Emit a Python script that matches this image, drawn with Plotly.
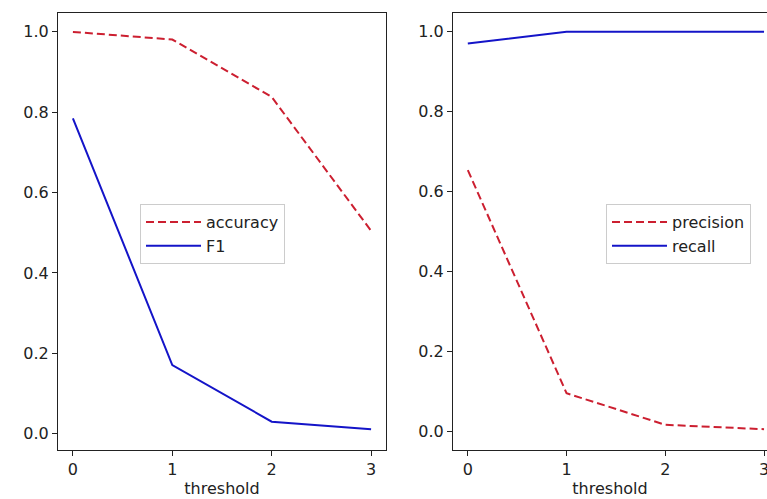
import plotly.graph_objects as go

thresholds = [0, 1, 2, 3]
accuracy = [1.0, 0.981, 0.838, 0.505]
f1 = [0.785, 0.171, 0.030, 0.011]
precision = [0.654, 0.096, 0.017, 0.006]
recall = [0.971, 1.0, 1.0, 1.0]

RED = "#cc1f30"
BLUE = "#1414c8"
FONT = dict(family="DejaVu Sans", size=16, color="#222222")

fig = go.Figure()
fig.add_trace(go.Scatter(x=thresholds, y=accuracy, mode="lines", name="accuracy",
                         line=dict(color=RED, width=2, dash="8px,4px"),
                         xaxis="x", yaxis="y", legend="legend"))
fig.add_trace(go.Scatter(x=thresholds, y=f1, mode="lines", name="F1",
                         line=dict(color=BLUE, width=2),
                         xaxis="x", yaxis="y", legend="legend"))
fig.add_trace(go.Scatter(x=thresholds, y=precision, mode="lines", name="precision",
                         line=dict(color=RED, width=2, dash="8px,4px"),
                         xaxis="x2", yaxis="y2", legend="legend2"))
fig.add_trace(go.Scatter(x=thresholds, y=recall, mode="lines", name="recall",
                         line=dict(color=BLUE, width=2),
                         xaxis="x2", yaxis="y2", legend="legend2"))

W, H = 767, 499
ydom = [(H - 450) / H, (H - 13) / H]

common_x = dict(showgrid=False, zeroline=False, showline=True, linecolor="#222222",
                linewidth=1, ticks="outside", ticklen=5, tickcolor="#222222",
                tickfont=FONT, tickvals=thresholds, automargin=False,
                ticklabeloverflow="allow",
                title=dict(text="threshold", font=FONT, standoff=4))
common_y = dict(showgrid=False, zeroline=False, showline=True, linecolor="#222222",
                linewidth=1, ticks="outside", ticklen=5, tickcolor="#222222",
                tickfont=FONT, tickvals=[0, 0.2, 0.4, 0.6, 0.8, 1.0],
                ticktext=["0.0", "0.2", "0.4", "0.6", "0.8", "1.0"], automargin=False)

fig.update_layout(
    width=W, height=H,
    margin=dict(l=0, r=0, t=0, b=0),
    paper_bgcolor="white", plot_bgcolor="white",
    xaxis=dict(domain=[58 / W, 386 / W], range=[-0.15, 3.15], mirror=True, anchor="y", **common_x),
    yaxis=dict(domain=ydom, range=[-0.0405, 1.047], mirror=True, anchor="x", **common_y),
    xaxis2=dict(domain=[453 / W, 1.0], range=[-0.15, 3.03], mirror=True, anchor="y2", **common_x),
    yaxis2=dict(domain=ydom, range=[-0.046, 1.047], mirror=False, anchor="x2", **common_y),
    legend=dict(x=140 / W, y=(H - 204) / H, xanchor="left", yanchor="top",
                bgcolor="white", bordercolor="#cccccc", borderwidth=1, font=FONT,
                itemwidth=55),
    legend2=dict(x=606 / W, y=(H - 204) / H, xanchor="left", yanchor="top",
                 bgcolor="white", bordercolor="#cccccc", borderwidth=1, font=FONT,
                 itemwidth=55),
    showlegend=True,
)

fig.write_html("out.html")
